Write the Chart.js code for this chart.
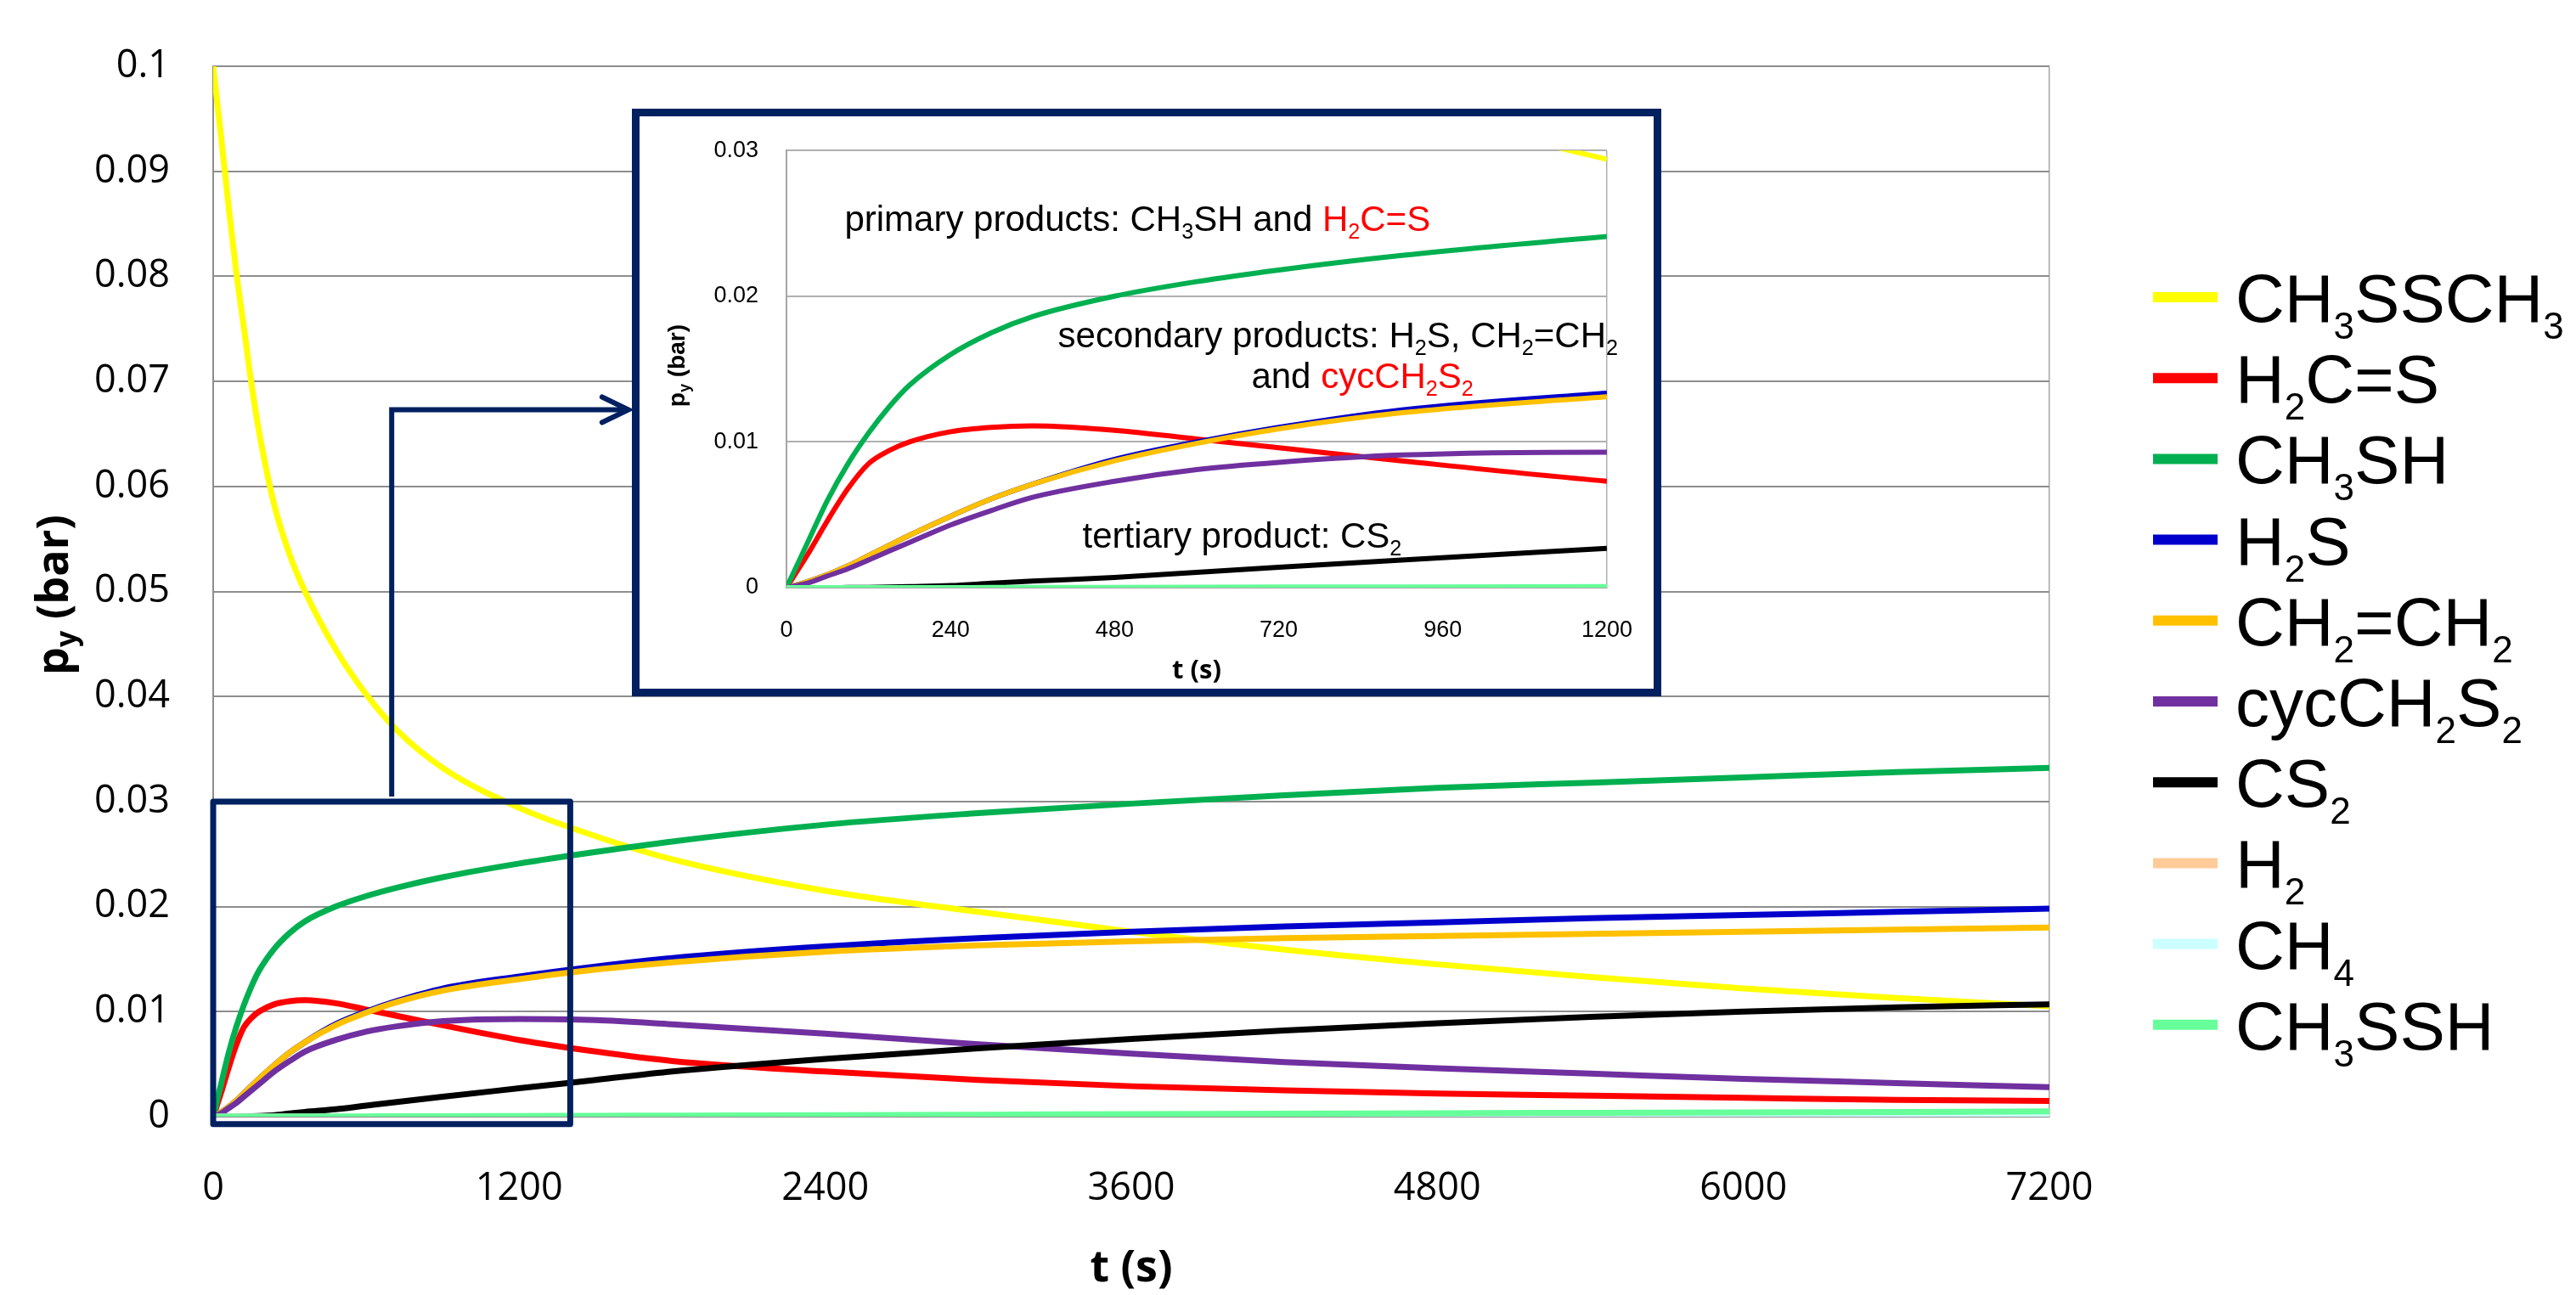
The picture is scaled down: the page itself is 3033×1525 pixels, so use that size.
<!DOCTYPE html>
<html>
<head>
<meta charset="utf-8">
<script src="https://cdn.jsdelivr.net/npm/chart.js@4.4.0/dist/chart.umd.min.js"></script>
<style>
  html, body { margin: 0; padding: 0; background: #fff; overflow: hidden; }
  #wrap { position: relative; width: 3033px; height: 1525px; }
  #mainChart { position: absolute; left: 0; top: 0; }
  #insetChart { position: absolute; left: 744px; top: 128px; }
</style>
</head>
<body>
<div id="wrap">
  <canvas id="mainChart" width="3033" height="1525"></canvas>
  <canvas id="insetChart" width="1212" height="692"></canvas>
</div>
<script>
// time axis (s)
const times = [0, 30, 60, 90, 120, 150, 180, 240, 300, 360, 480, 600, 720, 900, 1200, 1500, 1800, 2400, 3000, 3600, 4200, 4800, 5400, 6000, 6600, 7200];

// partial pressures (bar)
const ch3ssch3 = [0.1, 0.0935, 0.0868, 0.0805, 0.0752, 0.0698, 0.0652, 0.0582, 0.0535, 0.0500, 0.0445, 0.0402, 0.0368, 0.0332, 0.0294, 0.0267, 0.0245, 0.0215, 0.0195, 0.0176, 0.0159, 0.0145, 0.0133, 0.0122, 0.0113, 0.0105];
const h2cs     = [0, 0.0022, 0.0046, 0.0068, 0.0085, 0.0094, 0.0100, 0.0107, 0.0110, 0.0111, 0.0108, 0.0102, 0.0096, 0.0087, 0.0073, 0.0062, 0.0053, 0.0043, 0.0035, 0.0029, 0.0025, 0.0022, 0.0020, 0.0018, 0.0016, 0.0015];
const ch3sh    = [0, 0.0030, 0.0060, 0.0085, 0.0106, 0.0124, 0.0139, 0.0160, 0.0175, 0.0186, 0.0200, 0.0210, 0.0218, 0.0228, 0.0241, 0.0252, 0.0262, 0.0278, 0.0289, 0.0298, 0.0306, 0.0313, 0.0318, 0.0323, 0.0328, 0.0332];
const h2s      = [0, 0.0004, 0.0009, 0.0015, 0.0022, 0.0029, 0.0036, 0.0049, 0.0061, 0.0071, 0.0088, 0.0100, 0.0110, 0.0122, 0.01335, 0.0143, 0.0151, 0.0162, 0.0170, 0.0176, 0.0181, 0.0185, 0.0189, 0.0192, 0.0195, 0.0198];
const c2h4     = [0, 0.0004, 0.0009, 0.0015, 0.0022, 0.0029, 0.0036, 0.0049, 0.0061, 0.0071, 0.0087, 0.0099, 0.0109, 0.0120, 0.0131, 0.0140, 0.0147, 0.0157, 0.0163, 0.0167, 0.0170, 0.0172, 0.0174, 0.0176, 0.0178, 0.0180];
const cycch2s2 = [0, 0.0003, 0.0008, 0.0013, 0.0019, 0.0025, 0.0031, 0.0043, 0.0053, 0.0062, 0.0073, 0.0081, 0.0086, 0.0091, 0.0093, 0.0092, 0.0088, 0.0079, 0.0069, 0.0060, 0.0052, 0.0046, 0.0041, 0.0036, 0.0032, 0.0028];
const cs2      = [0, 0, 0, 0.00001, 0.00002, 0.00004, 0.00007, 0.00014, 0.0003, 0.00045, 0.0007, 0.00105, 0.0014, 0.0019, 0.0027, 0.0035, 0.0043, 0.0055, 0.0065, 0.0074, 0.0082, 0.0089, 0.0095, 0.0100, 0.0104, 0.0107];
const h2       = [0, 0, 0, 0, 0, 0, 0, 0, 0, 0, 0, 0, 0, 0, 0.00001, 0.00001, 0.00002, 0.00003, 0.00004, 0.00005, 0.00006, 0.00007, 0.00008, 0.00009, 0.0001, 0.0001];
const ch4      = [0, 0, 0, 0, 0, 0, 0, 0, 0, 0, 0, 0, 0, 0, 0, 0, 0, 0, 0, 0, 0, 0, 0, 0, 0, 0];
const ch3ssh   = [0, 0, 0, 0, 0, 0, 0, 0, 0.00001, 0.00001, 0.00002, 0.00003, 0.00004, 0.00005, 0.00007, 0.00009, 0.00011, 0.00015, 0.00019, 0.00024, 0.00028, 0.00033, 0.00037, 0.00041, 0.00045, 0.0005];

// "_x" = subscript x
const species = ['CH_3SSCH_3', 'H_2C=S', 'CH_3SH', 'H_2S', 'CH_2=CH_2', 'cycCH_2S_2', 'CS_2', 'H_2', 'CH_4', 'CH_3SSH'];
const series = [ch3ssch3, h2cs, ch3sh, h2s, c2h4, cycch2s2, cs2, h2, ch4, ch3ssh];
const colors = ['#FFFF00', '#FF0000', '#00B050', '#0000CC', '#FFC000', '#7030A0', '#000000', '#FFCC99', '#CCFFFF', '#66FF99'];

// tick labels
const mainTimeTicks = [0, 1200, 2400, 3600, 4800, 6000, 7200];
const mainPressureTicks = [0, 0.01, 0.02, 0.03, 0.04, 0.05, 0.06, 0.07, 0.08, 0.09, 0.1];
const insetTimeTicks = [0, 240, 480, 720, 960, 1200];
const insetPressureTicks = [0, 0.01, 0.02, 0.03];

const navy = '#002060';

// inset notes, placed in inset data units
const insetNotes = [
  { t: 85,  p: 0.02447, parts: [['primary products: CH_3SH and ', '#000000'], ['H_2C=S', '#FF0000']] },
  { t: 397, p: 0.01648, parts: [['secondary products: H_2S, CH_2=CH_2', '#000000']] },
  { t: 680, p: 0.01369, parts: [['and ', '#000000'], ['cycCH_2S_2', '#FF0000']] },
  { t: 433, p: 0.00274, parts: [['tertiary product: CS_2', '#000000']] }
];

// text with subscripts
function drawRich(ctx, parts, x, y, o) {
  const runs = [];
  parts.forEach(([txt, col]) => {
    for (let i = 0; i < txt.length; i++) {
      if (txt[i] === '_' && i + 1 < txt.length) { runs.push({ t: txt[i + 1], sub: true, col }); i++; }
      else runs.push({ t: txt[i], sub: false, col });
    }
  });
  const subScale = o.subScale || 0.6;
  const fontOf = sub => (o.weight || 'normal') + ' ' + (sub ? o.size * subScale : o.size) + 'px ' + o.family;
  let w = 0;
  runs.forEach(r => { ctx.font = fontOf(r.sub); r.w = ctx.measureText(r.t).width; w += r.w; });
  let cx = o.align === 'center' ? x - w / 2 : (o.align === 'right' ? x - w : x);
  ctx.textAlign = 'left';
  ctx.textBaseline = 'alphabetic';
  runs.forEach(r => {
    ctx.font = fontOf(r.sub);
    ctx.fillStyle = r.col;
    ctx.fillText(r.t, cx, r.sub ? y + o.size * (o.subShift || 0.22) : y);
    cx += r.w;
  });
}

function makeDatasets(width) {
  return species.map((name, i) => ({
    label: name,
    data: times.map((t, j) => ({ x: t, y: series[i][j] })),
    borderColor: colors[i],
    backgroundColor: colors[i],
    borderWidth: width,
    pointRadius: 0,
    fill: false,
    cubicInterpolationMode: 'monotone',
    order: species.length - i
  }));
}

const mainDecor = {
  id: 'mainDecor',
  afterDatasetsDraw(chart) {
    const ctx = chart.ctx, xs = chart.scales.x, ys = chart.scales.y;
    ctx.save();
    // zoom box
    const l = xs.getPixelForValue(0), r = xs.getPixelForValue(1400);
    const t = ys.getPixelForValue(0.03), b = ys.getPixelForValue(-0.0007);
    ctx.strokeStyle = navy;
    ctx.lineWidth = 7;
    ctx.lineJoin = 'round';
    ctx.strokeRect(l, t, r - l, b - t);
    // connector to inset
    const cx = xs.getPixelForValue(700), cy = ys.getPixelForValue(0.0673), tip = xs.getPixelForValue(1628);
    ctx.lineWidth = 6;
    ctx.lineJoin = 'miter';
    ctx.beginPath();
    ctx.moveTo(cx, t - 6);
    ctx.lineTo(cx, cy);
    ctx.lineTo(tip, cy);
    ctx.stroke();
    ctx.lineCap = 'round';
    ctx.beginPath();
    ctx.moveTo(tip - 31, cy - 15);
    ctx.lineTo(tip, cy);
    ctx.lineTo(tip - 31, cy + 15);
    ctx.stroke();
    ctx.restore();
  },
  afterDraw(chart) {
    const ctx = chart.ctx, area = chart.chartArea;
    ctx.save();
    // axis titles
    drawRich(ctx, [['t (s)', '#000']], (area.left + area.right) / 2, 1509,
      { size: 52, family: '"Open Sans"', weight: 'bold', align: 'center' });
    ctx.translate(80, (area.top + area.bottom) / 2 + 4);
    ctx.rotate(-Math.PI / 2);
    drawRich(ctx, [['p_y (bar)', '#000']], 0, 0,
      { size: 52, family: '"Open Sans"', weight: 'bold', align: 'center', subScale: 0.65, subShift: 0.2 });
    ctx.restore();

    // legend
    ctx.save();
    species.forEach((name, i) => {
      const yy = 350 + i * 95.2;
      ctx.strokeStyle = colors[i];
      ctx.lineWidth = 12;
      ctx.beginPath();
      ctx.moveTo(area.right + 122, yy);
      ctx.lineTo(area.right + 198, yy);
      ctx.stroke();
      drawRich(ctx, [[name, '#000']], area.right + 219, yy + 29,
        { size: 80, family: '"Liberation Sans", Arial', subScale: 0.55, subShift: 0.25 });
    });
    ctx.restore();
  }
};

const insetDecor = {
  id: 'insetDecor',
  beforeDraw(chart) {
    const ctx = chart.ctx;
    ctx.save();
    ctx.fillStyle = '#fff';
    ctx.fillRect(0, 0, chart.width, chart.height);
    ctx.restore();
  },
  afterDraw(chart) {
    const ctx = chart.ctx, area = chart.chartArea, xs = chart.scales.x, ys = chart.scales.y;
    ctx.save();
    insetNotes.forEach(n => {
      drawRich(ctx, n.parts, xs.getPixelForValue(n.t), ys.getPixelForValue(n.p),
        { size: 42, family: '"Liberation Sans", Arial', subScale: 0.6, subShift: 0.22 });
    });
    drawRich(ctx, [['t (s)', '#000']], (area.left + area.right) / 2, 671,
      { size: 31, family: '"Open Sans"', weight: 'bold', align: 'center' });
    ctx.translate(62, (area.top + area.bottom) / 2 - 4);
    ctx.rotate(-Math.PI / 2);
    drawRich(ctx, [['p_y (bar)', '#000']], 0, 0,
      { size: 28, family: '"Liberation Sans", Arial', weight: 'bold', align: 'center', subScale: 0.65, subShift: 0.2 });
    ctx.restore();
    // frame
    ctx.save();
    ctx.strokeStyle = navy;
    ctx.lineWidth = 9;
    ctx.strokeRect(4.5, 4.5, chart.width - 9, chart.height - 9);
    ctx.restore();
  }
};

const mainChart = new Chart(document.getElementById('mainChart'), {
  type: 'line',
  data: { datasets: makeDatasets(7) },
  options: {
    responsive: false,
    devicePixelRatio: 1,
    animation: false,
    layout: { padding: { top: 67, right: 620, left: 0, bottom: 0 } },
    plugins: { legend: { display: false }, tooltip: { enabled: false } },
    scales: {
      x: {
        type: 'linear', min: 0, max: 7200,
        afterBuildTicks: s => { s.ticks = mainTimeTicks.map(v => ({ value: v })); },
        afterFit: s => { s.height = 210; },
        ticks: { callback: v => String(v), color: '#000', font: { family: '"Open Sans"', size: 45 }, padding: 58, maxRotation: 0, autoSkip: false },
        grid: { drawTicks: false, lineWidth: 1.5, color: c => (c.tick && c.tick.value === 7200 ? '#a6a6a6' : 'rgba(0,0,0,0)') },
        border: { color: '#8e8e8e', width: 2 }
      },
      y: {
        min: 0, max: 0.1,
        afterBuildTicks: s => { s.ticks = mainPressureTicks.map(v => ({ value: v })); },
        afterFit: s => { s.width = 251; },
        ticks: { callback: v => String(v), color: '#000', font: { family: '"Open Sans"', size: 45 }, padding: 51 },
        grid: { drawTicks: false, color: '#8e8e8e', lineWidth: 2 },
        border: { color: '#8e8e8e', width: 2 }
      }
    }
  },
  plugins: [mainDecor]
});

const insetChart = new Chart(document.getElementById('insetChart'), {
  type: 'line',
  data: { datasets: makeDatasets(6) },
  options: {
    responsive: false,
    devicePixelRatio: 1,
    animation: false,
    layout: { padding: { top: 27, right: 54, left: 0, bottom: 0 } },
    plugins: { legend: { display: false }, tooltip: { enabled: false } },
    scales: {
      x: {
        type: 'linear', min: 0, max: 1200,
        afterBuildTicks: s => { s.ticks = insetTimeTicks.map(v => ({ value: v })); },
        afterFit: s => { s.height = 128; },
        ticks: { callback: v => String(v), color: '#000', font: { family: '"Liberation Sans", Arial', size: 27 }, padding: 34, maxRotation: 0, autoSkip: false },
        grid: { drawTicks: false, lineWidth: 1.5, color: c => (c.tick && c.tick.value === 1200 ? '#b0b0b0' : 'rgba(0,0,0,0)') },
        border: { color: '#a6a6a6', width: 2 }
      },
      y: {
        min: 0, max: 0.03,
        afterBuildTicks: s => { s.ticks = insetPressureTicks.map(v => ({ value: v })); },
        afterFit: s => { s.width = 182; },
        ticks: { callback: v => String(v), color: '#000', font: { family: '"Liberation Sans", Arial', size: 27 }, padding: 33 },
        grid: { drawTicks: false, color: '#b0b0b0', lineWidth: 2 },
        border: { color: '#a6a6a6', width: 2 }
      }
    }
  },
  plugins: [insetDecor]
});
</script>
</body>
</html>
